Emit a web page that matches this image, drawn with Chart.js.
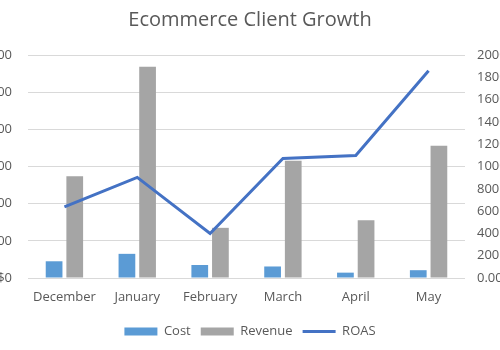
<!DOCTYPE html>
<html>
<head>
<meta charset="utf-8">
<script src="https://cdn.jsdelivr.net/npm/chart.js@4"></script>
<style>
  html, body { margin: 0; padding: 0; background: #fff; }
  #wrap { width: 500px; height: 350px; position: relative; }
</style>
</head>
<body>
<div id="wrap"><canvas id="growthChart"></canvas></div>
<script>
// data
const months = ["December", "January", "February", "March", "April", "May"];
const cost = [225, 325, 175, 155, 72, 105];
const revenue = [1370, 2842, 675, 1576, 777, 1778];
const roas = [638, 902, 399, 1072, 1099, 1859]; // percent

const textColor = "#595959";
const fontFamily = "'Open Sans', 'DejaVu Sans', sans-serif";

const ctx = document.getElementById("growthChart").getContext("2d");

const growthChart = new Chart(ctx, {
  type: "bar",
  data: {
    labels: months,
    datasets: [
      {
        label: "Cost",
        data: cost,
        backgroundColor: "#5B9BD5",
        borderWidth: 0,
        pointStyle: "rect",
        yAxisID: "y",
        order: 1,
        categoryPercentage: 0.567,
        barPercentage: 0.81,
      },
      {
        label: "Revenue",
        data: revenue,
        backgroundColor: "#A5A5A5",
        borderWidth: 0,
        pointStyle: "rect",
        yAxisID: "y",
        order: 1,
        categoryPercentage: 0.567,
        barPercentage: 0.81,
      },
      {
        type: "line",
        label: "ROAS",
        data: roas,
        borderColor: "#4472C4",
        backgroundColor: "#4472C4",
        borderWidth: 3,
        pointRadius: 0,
        pointStyle: "line",
        tension: 0,
        fill: false,
        yAxisID: "y1",
        order: 0,
      },
    ],
  },
  options: {
    responsive: true,
    maintainAspectRatio: false,
    animation: false,
    layout: { padding: { left: 0, right: 0, top: 0, bottom: 2 } },
    plugins: {
      title: {
        display: true,
        text: "Ecommerce Client Growth",
        color: textColor,
        font: { family: fontFamily, size: 20, weight: "normal" },
        padding: { top: 8, bottom: 23 },
      },
      legend: {
        display: true,
        position: "bottom",
        labels: {
          color: textColor,
          font: { family: fontFamily, size: 13 },
          usePointStyle: true,
          pointStyleWidth: 33,
          boxHeight: 8,
          padding: 10,
          sort: (a, b) => a.datasetIndex - b.datasetIndex,
        },
      },
      tooltip: { enabled: false },
    },
    scales: {
      x: {
        afterFit: (scale) => { scale.height = 37; },
        grid: { display: false, drawTicks: false },
        border: { display: false },
        ticks: {
          color: textColor,
          font: { family: fontFamily, size: 13 },
          padding: 11,
          maxRotation: 0,
        },
      },
      y: {
        position: "left",
        min: 0,
        max: 3000,
        afterFit: (scale) => { scale.width = 28; },
        grid: { color: "#D9D9D9", lineWidth: 1, drawTicks: false },
        border: { display: false },
        ticks: {
          stepSize: 500,
          padding: 16,
          color: textColor,
          font: { family: fontFamily, size: 13 },
          callback: (v) => "$" + v.toLocaleString("en-US"),
        },
      },
      y1: {
        position: "right",
        min: 0,
        max: 2000,
        afterFit: (scale) => { scale.width = 35; },
        grid: { drawOnChartArea: false, drawTicks: false },
        border: { display: false },
        ticks: {
          stepSize: 200,
          padding: 12,
          color: textColor,
          font: { family: fontFamily, size: 13 },
          callback: (v) => v.toFixed(2) + "%",
        },
      },
    },
  },
});
</script>
</body>
</html>
